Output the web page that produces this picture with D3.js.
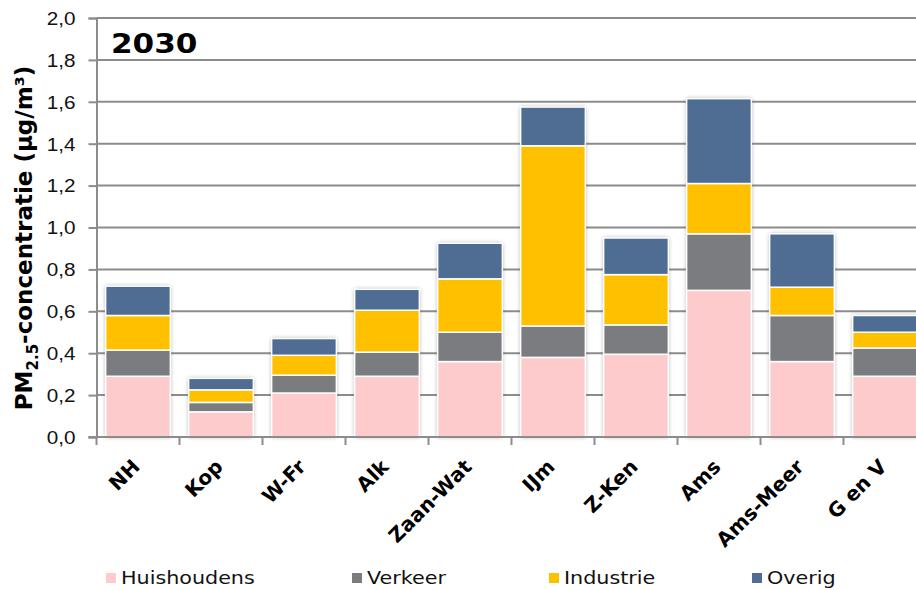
<!DOCTYPE html>
<html>
<head>
<meta charset="utf-8">
<script src="https://cdn.jsdelivr.net/npm/d3@7"></script>
<style>
  html, body { margin: 0; padding: 0; background: #fff; overflow: hidden; }
  svg { display: block; font-family: "DejaVu Sans", Verdana, sans-serif; }
</style>
</head>
<body>
<svg id="chart" width="916" height="590"></svg>
<script>
// Regions and PM2.5 contributions per source (µg/m³), scenario 2030
const regions = ["NH", "Kop", "W-Fr", "Alk", "Zaan-Wat", "IJm", "Z-Ken", "Ams", "Ams-Meer", "G en V"];
const huishoudens = [0.29, 0.12, 0.21, 0.29, 0.36, 0.38, 0.395, 0.70, 0.36, 0.29];
const verkeer     = [0.125, 0.045, 0.085, 0.115, 0.14, 0.15, 0.14, 0.27, 0.22, 0.135];
const industrie   = [0.165, 0.06, 0.095, 0.20, 0.255, 0.86, 0.24, 0.24, 0.135, 0.075];
const overig      = [0.14, 0.055, 0.08, 0.10, 0.17, 0.185, 0.175, 0.405, 0.255, 0.08];
const seriesNames = ["Huishoudens", "Verkeer", "Industrie", "Overig"];
const seriesColors = ["#fdcbcb", "#7b7c80", "#ffc000", "#4f6d93"];
const yTicks = [0, 0.2, 0.4, 0.6, 0.8, 1.0, 1.2, 1.4, 1.6, 1.8, 2.0];
const chartTitle = "2030";

const rows = regions.map((r, i) => ({
  region: r,
  Huishoudens: huishoudens[i],
  Verkeer: verkeer[i],
  Industrie: industrie[i],
  Overig: overig[i]
}));

const svg = d3.select("#chart");
const plotLeft = 96.5, plotRight = 926.5, plotTop = 18, plotBottom = 437;
const sx = 1.15; // horizontal text stretch

const x = d3.scaleBand().domain(regions).range([plotLeft, plotRight]).paddingInner(0.22).paddingOuter(0.11);
const y = d3.scaleLinear().domain([0, 2]).range([plotBottom, plotTop]);
const color = d3.scaleOrdinal().domain(seriesNames).range(seriesColors);

// shadow filter for the bars
const defs = svg.append("defs");
const f = defs.append("filter").attr("id", "shadow").attr("x", "-20%").attr("y", "-20%").attr("width", "140%").attr("height", "140%");
f.append("feDropShadow").attr("dx", 0).attr("dy", 0).attr("stdDeviation", 2.2)
  .attr("flood-color", "#000").attr("flood-opacity", 0.35);

// gridlines
svg.append("g")
  .selectAll("line").data(yTicks.filter(d => d > 0)).join("line")
  .attr("x1", plotLeft).attr("x2", 916)
  .attr("y1", d => y(d)).attr("y2", d => y(d))
  .attr("stroke", "#8c8c8c").attr("stroke-width", 2);

// y axis
const yAxis = svg.append("g")
  .attr("transform", `translate(${plotLeft},0)`)
  .call(d3.axisLeft(y).tickValues(yTicks).tickSize(8).tickPadding(0).tickFormat(d => d3.format(".1f")(d).replace(".", ",")));
yAxis.select(".domain").attr("stroke", "#8c8c8c").attr("stroke-width", 2);
yAxis.selectAll(".tick line").attr("stroke", "#8c8c8c").attr("stroke-width", 2);
yAxis.selectAll(".tick text")
  .attr("font-size", 18).attr("fill", "#111").attr("text-anchor", "end")
  .attr("dy", "0.35em")
  .attr("x", null)
  .attr("transform", `translate(-21,0) scale(${sx},1)`);

// stacked bars
const stack = d3.stack().keys(seriesNames);
const stacked = stack(rows);
const total = d => d.Huishoudens + d.Verkeer + d.Industrie + d.Overig;

const barsG = svg.append("g");
// shadow layer beneath the stacks
barsG.append("g").selectAll("rect").data(rows).join("rect")
  .attr("x", d => x(d.region))
  .attr("width", x.bandwidth())
  .attr("y", d => y(total(d)))
  .attr("height", d => y(0) - y(total(d)))
  .attr("fill", "#fff")
  .attr("filter", "url(#shadow)");

barsG.selectAll("g.series").data(stacked).join("g")
  .attr("class", "series")
  .attr("fill", d => color(d.key))
  .selectAll("rect").data(d => d).join("rect")
  .attr("x", d => x(d.data.region))
  .attr("width", x.bandwidth())
  .attr("y", d => y(d[1]))
  .attr("height", d => y(d[0]) - y(d[1]))
  .attr("stroke", "#fff")
  .attr("stroke-width", 1.5);

// x axis
const xAxis = svg.append("g")
  .attr("transform", `translate(0,${plotBottom})`);
xAxis.append("line").attr("x1", plotLeft - 8).attr("x2", 916).attr("y1", 0).attr("y2", 0)
  .attr("stroke", "#8c8c8c").attr("stroke-width", 2);
const boundaries = regions.map(r => x(r) - x.step() * x.paddingInner() / 2);
xAxis.selectAll("line.tk").data(boundaries).join("line")
  .attr("class", "tk")
  .attr("x1", d => d).attr("x2", d => d).attr("y1", 0).attr("y2", 8)
  .attr("stroke", "#8c8c8c").attr("stroke-width", 2);
xAxis.selectAll("text").data(regions).join("text")
  .attr("transform", d => `translate(${x(d) + x.bandwidth() / 2 + 3},${31}) rotate(-45)`)
  .attr("text-anchor", "end")
  .attr("font-size", 20).attr("font-weight", "bold").attr("fill", "#000")
  .text(d => d);

// title inside plot
svg.append("text")
  .attr("transform", `translate(111,53) scale(${sx},1)`)
  .attr("font-size", 27).attr("font-weight", "bold").attr("fill", "#000")
  .text(chartTitle);

// y axis title with subscript
const yt = svg.append("text")
  .attr("transform", "translate(32,238) rotate(-90)")
  .attr("text-anchor", "middle")
  .attr("font-size", 23).attr("font-weight", "bold").attr("fill", "#000");
yt.append("tspan").text("PM");
yt.append("tspan").attr("font-size", 15).attr("dy", 6).text("2.5");
yt.append("tspan").attr("dy", -6).text("-concentratie (µg/m³)");

// legend
const legendX = [106, 352, 549, 752];
const lg = svg.append("g").selectAll("g").data(seriesNames).join("g")
  .attr("transform", (d, i) => `translate(${legendX[i]},578)`);
lg.append("rect").attr("x", 0).attr("y", -5).attr("width", 10).attr("height", 10)
  .attr("fill", d => color(d));
lg.append("text")
  .attr("transform", `translate(15,0) scale(${sx},1)`)
  .attr("dy", "0.36em")
  .attr("font-size", 18).attr("fill", "#111")
  .text(d => d);
</script>
</body>
</html>
